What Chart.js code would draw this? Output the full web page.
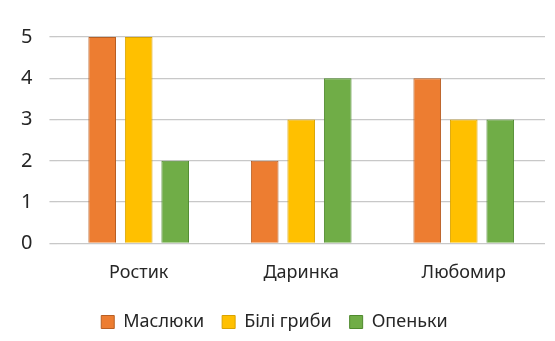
<!DOCTYPE html>
<html>
<head>
<meta charset="utf-8">
<script src="https://cdn.jsdelivr.net/npm/chart.js@4"></script>
<style>
  html, body { margin: 0; padding: 0; background: #fff; }
  #wrap { width: 555px; height: 341px; }
</style>
</head>
<body>
<div id="wrap"><canvas id="c" width="555" height="341"></canvas></div>
<script>
// Гриби — хто скільки зібрав
const names = ['Ростик', 'Даринка', 'Любомир'];
const maslyuky = [5, 2, 4];
const bili = [5, 3, 3];
const openky = [2, 4, 3];
const yTicks = [0, 1, 2, 3, 4, 5];

const font = { family: "'Noto Sans', 'Open Sans', sans-serif", size: 18 };

new Chart(document.getElementById('c'), {
  type: 'bar',
  data: {
    labels: names,
    datasets: [
      { label: 'Маслюки', data: maslyuky, backgroundColor: '#ed7d31', borderColor: '#b85f24', borderWidth: 1 },
      { label: 'Білі гриби', data: bili, backgroundColor: '#ffc000', borderColor: '#d9a300', borderWidth: 1 },
      { label: 'Опеньки', data: openky, backgroundColor: '#70ad47', borderColor: '#4f8a2e', borderWidth: 1 }
    ]
  },
  options: {
    responsive: false, animation: false,
    datasets: { bar: { categoryPercentage: 0.674, barPercentage: 0.757 } },
    layout: { padding: { top: 37, right: 10, left: 4, bottom: 0 } },
    plugins: {
      tooltip: { enabled: false },
      legend: { position: 'bottom',
        labels: { color: '#262626', font: { ...font, size: 18 }, boxWidth: 13, boxHeight: 13, padding: 18 } }
    },
    scales: {
      x: { grid: { display: false }, border: { display: false },
        ticks: { color: '#262626', font: { ...font, size: 18 }, padding: 11 } },
      y: { min: 0, max: 5, afterBuildTicks: a => { a.ticks = yTicks.map(v => ({ value: v })) },
        grid: { color: '#c8c8c8', lineWidth: 1.3 }, border: { display: false },
        ticks: { color: '#262626', font: { ...font, size: 20 }, padding: 17 } }
    }
  }
});
</script>
</body>
</html>
